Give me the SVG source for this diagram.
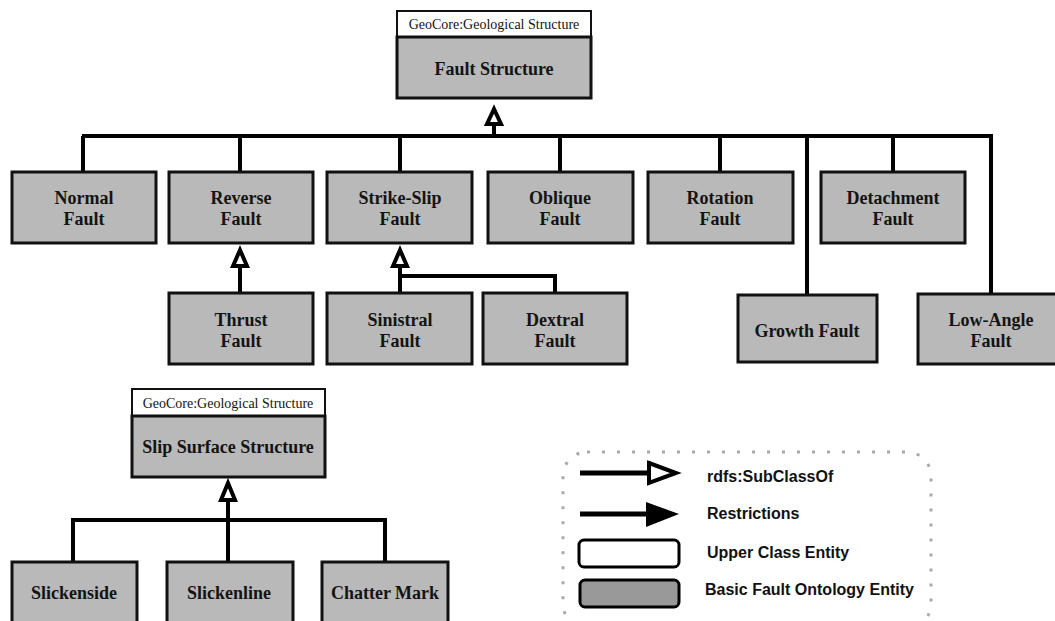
<svg xmlns="http://www.w3.org/2000/svg" width="1055" height="621" viewBox="0 0 1055 621">
<style>
.box{fill:#b9b9b9;stroke:#111;stroke-width:3}
.upper{fill:#fff;stroke:#111;stroke-width:2}
.lbl{font-family:"Liberation Serif","Times New Roman",serif;font-weight:bold;font-size:18px;fill:#141414;text-anchor:middle}
.geo{font-family:"Liberation Serif","Times New Roman",serif;font-size:14px;fill:#141414;text-anchor:middle}
.ln{fill:none;stroke:#000;stroke-width:4}
.tri{fill:#fff;stroke:#000;stroke-width:4;stroke-linejoin:miter}
.leg{font-family:"Liberation Sans",Arial,sans-serif;font-weight:bold;font-size:16px;fill:#111}
</style>
<rect width="1055" height="621" fill="#fff"/>

<g id="connectors">
  <path class="ln" d="M82 136H993"/>
  <path class="ln" d="M494 124V136"/>
  <path class="ln" d="M83 136V172M240 136V172M400 136V172M560 136V172M720 136V172M807 136V295M893 136V172M991 136V294"/>
  <path class="ln" d="M240 267V293"/>
  <path class="ln" d="M400 267V293M400 276H555V293"/>
  <path class="ln" d="M228 501V562M73 562V520H385V562"/>
  <polygon class="tri" points="494,109 487,124 501,124"/>
  <polygon class="tri" points="240,250 233,266 247,266"/>
  <polygon class="tri" points="400,250 393,266 407,266"/>
  <polygon class="tri" points="228,483 221,500 235,500"/>
</g>

<g id="fault-structure">
  <rect class="upper" x="397" y="11" width="194" height="26"/>
  <text class="geo" x="494" y="29">GeoCore:Geological Structure</text>
  <rect class="box" x="397" y="37" width="194" height="61"/>
  <text class="lbl" x="494" y="75">Fault Structure</text>
</g>

<g id="normal-fault"><rect class="box" x="12" y="172" width="144" height="71"/><text class="lbl" x="84" y="204">Normal</text><text class="lbl" x="84" y="225">Fault</text></g>
<g id="reverse-fault"><rect class="box" x="169" y="172" width="144" height="71"/><text class="lbl" x="241" y="204">Reverse</text><text class="lbl" x="241" y="225">Fault</text></g>
<g id="strike-slip-fault"><rect class="box" x="327" y="172" width="145" height="71"/><text class="lbl" x="400" y="204">Strike-Slip</text><text class="lbl" x="400" y="225">Fault</text></g>
<g id="oblique-fault"><rect class="box" x="488" y="172" width="145" height="71"/><text class="lbl" x="560" y="204">Oblique</text><text class="lbl" x="560" y="225">Fault</text></g>
<g id="rotation-fault"><rect class="box" x="648" y="172" width="145" height="71"/><text class="lbl" x="720" y="204">Rotation</text><text class="lbl" x="720" y="225">Fault</text></g>
<g id="detachment-fault"><rect class="box" x="821" y="172" width="144" height="71"/><text class="lbl" x="893" y="204">Detachment</text><text class="lbl" x="893" y="225">Fault</text></g>

<g id="thrust-fault"><rect class="box" x="169" y="293" width="144" height="71"/><text class="lbl" x="241" y="326">Thrust</text><text class="lbl" x="241" y="347">Fault</text></g>
<g id="sinistral-fault"><rect class="box" x="327" y="293" width="145" height="71"/><text class="lbl" x="400" y="326">Sinistral</text><text class="lbl" x="400" y="347">Fault</text></g>
<g id="dextral-fault"><rect class="box" x="483" y="293" width="144" height="71"/><text class="lbl" x="555" y="326">Dextral</text><text class="lbl" x="555" y="347">Fault</text></g>
<g id="growth-fault"><rect class="box" x="738" y="295" width="139" height="67"/><text class="lbl" x="807" y="337">Growth Fault</text></g>
<g id="low-angle-fault"><rect class="box" x="918" y="294" width="146" height="70"/><text class="lbl" x="991" y="326">Low-Angle</text><text class="lbl" x="991" y="347">Fault</text></g>

<g id="slip-surface-structure">
  <rect class="upper" x="132" y="389" width="193" height="27"/>
  <text class="geo" x="228" y="408">GeoCore:Geological Structure</text>
  <rect class="box" x="132" y="416" width="193" height="61"/>
  <text class="lbl" x="228" y="453">Slip Surface Structure</text>
</g>

<g id="slickenside"><rect class="box" x="12" y="562" width="125" height="70"/><text class="lbl" x="74" y="599">Slickenside</text></g>
<g id="slickenline"><rect class="box" x="167" y="562" width="126" height="70"/><text class="lbl" x="229" y="599">Slickenline</text></g>
<g id="chatter-mark"><rect class="box" x="322" y="562" width="126" height="70"/><text class="lbl" x="385" y="599">Chatter Mark</text></g>

<g id="legend">
  <rect x="563" y="452" width="368" height="176" rx="24" fill="none" stroke="#aaa" stroke-width="3" stroke-dasharray="3 12"/>
  <path d="M580 473H649" stroke="#000" stroke-width="5"/>
  <polygon points="649,463 676,473 649,483" fill="#fff" stroke="#000" stroke-width="4"/>
  <path d="M580 514H650" stroke="#000" stroke-width="5"/>
  <polygon points="646,502 679,514 646,527" fill="#000"/>
  <rect x="579" y="540" width="100" height="27" rx="5" fill="#fff" stroke="#000" stroke-width="3"/>
  <rect x="580" y="580" width="99" height="27" rx="5" fill="#999" stroke="#000" stroke-width="3"/>
  <text class="leg" x="707" y="482">rdfs:SubClassOf</text>
  <text class="leg" x="707" y="519">Restrictions</text>
  <text class="leg" x="707" y="558">Upper Class Entity</text>
  <text class="leg" x="705" y="595">Basic Fault Ontology Entity</text>
</g>
</svg>
